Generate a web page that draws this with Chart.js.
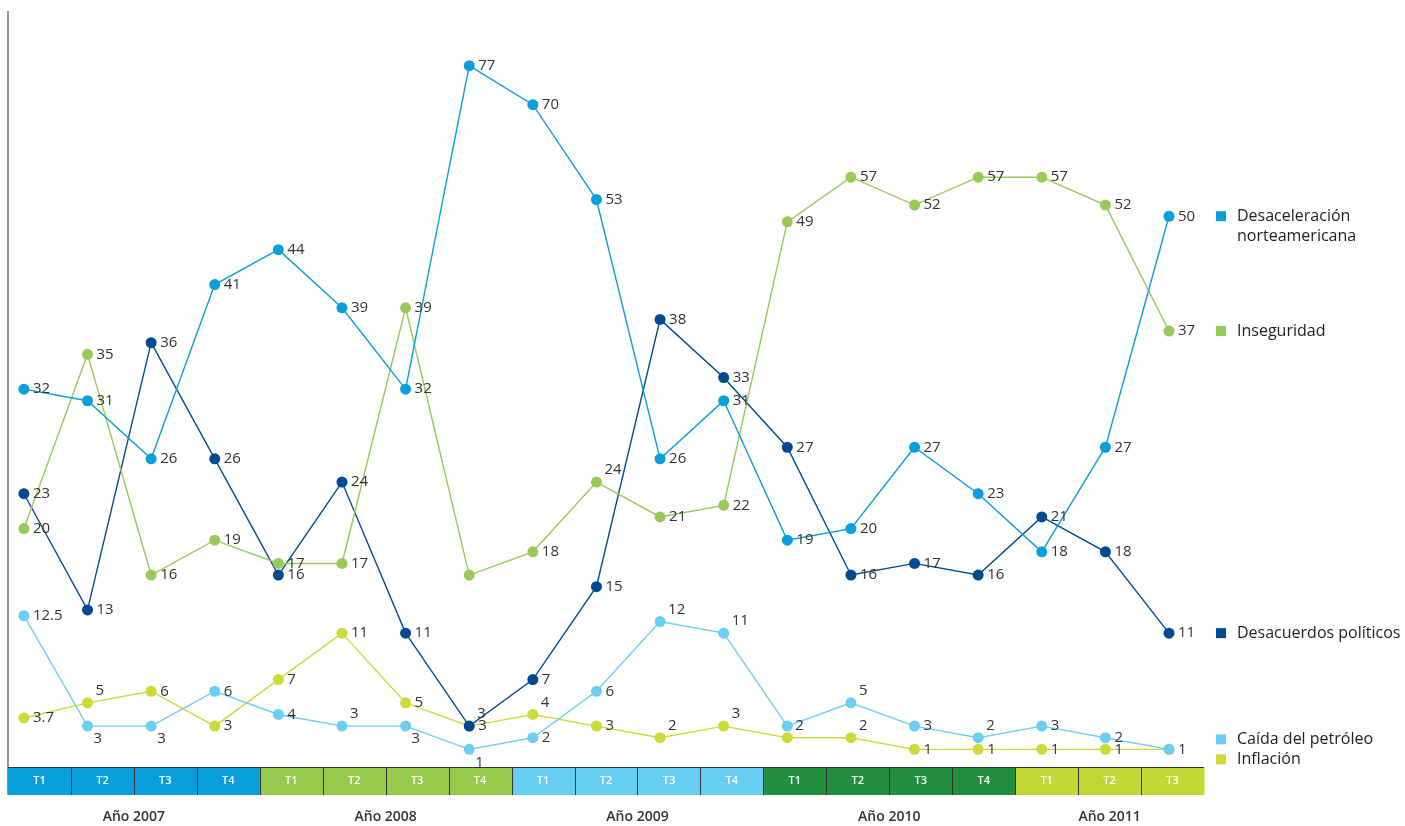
<!DOCTYPE html>
<html>
<head>
<meta charset="utf-8">
<script src="https://cdn.jsdelivr.net/npm/chart.js@4.4.0/dist/chart.umd.min.js"></script>
<style>
	html, body { margin: 0; padding: 0; background: #fff; }
	#wrap { width: 1405px; height: 826px; position: relative; }
</style>
</head>
<body>
<div id="wrap"><canvas id="chart"></canvas></div>
<script>
// --- data ---
var quarters = ['T1', 'T2', 'T3', 'T4', 'T1', 'T2', 'T3', 'T4', 'T1', 'T2', 'T3', 'T4', 'T1', 'T2', 'T3', 'T4', 'T1', 'T2', 'T3'];
var years = ['Año 2007', 'Año 2008', 'Año 2009', 'Año 2010', 'Año 2011'];
var quartersPerYear = [4, 4, 4, 4, 3];

var desaceleracion = [32, 31, 26, 41, 44, 39, 32, 77, 70, 53, 26, 31, 19, 20, 27, 23, 18, 27, 50];
var inseguridad = [20, 35, 16, 19, 17, 17, 39, 16, 18, 24, 21, 22, 49, 57, 52, 57, 57, 52, 37];
var desacuerdos = [23, 13, 36, 26, 16, 24, 11, 3, 7, 15, 38, 33, 27, 16, 17, 16, 21, 18, 11];
var petroleo = [12.5, 3, 3, 6, 4, 3, 3, 1, 2, 6, 12, 11, 3, 5, 3, 2, 3, 2, 1];
var inflacion = [3.7, 5, 6, 3, 7, 11, 5, 3, 4, 3, 2, 3, 2, 2, 1, 1, 1, 1, 1];

var seriesNames = ['Desaceleración\nnorteamericana', 'Inseguridad', 'Desacuerdos políticos', 'Caída del petróleo', 'Inflación'];

// --- styles ---
var seriesColors = ['#0a9edb', '#98ca5a', '#014a8f', '#6dcef4', '#cbda36'];
var yearColors = ['#079fdb', '#97c94d', '#67cdf3', '#22903f', '#c2d733'];
var textColor = '#333333';
var FONT = '"Open Sans", "Noto Sans", sans-serif';

// where each value label sits: r = right, a = above right, b = below right, '' = no label
var labelPlacement = [
	['r', 'r', 'r', 'r', 'r', 'r', 'r', 'r', 'r', 'r', 'r', 'r', 'r', 'r', 'r', 'r', 'r', 'r', 'r'],
	['r', 'r', 'r', 'r', 'r', 'r', 'r', '', 'r', 'a', 'r', 'r', 'r', 'r', 'r', 'r', 'r', 'r', 'r'],
	['r', 'r', 'r', 'r', 'r', 'r', 'r', 'a', 'r', 'r', 'r', 'r', 'r', 'r', 'r', 'r', 'r', 'r', 'r'],
	['r', 'b', 'b', 'r', 'r', 'a', 'b', 'b', 'r', 'r', 'a', 'a', '', 'a', 'r', 'a', 'r', 'r', 'r'],
	['r', 'a', 'r', 'r', 'r', 'r', 'r', 'r', 'a', 'r', 'a', 'a', 'a', 'a', 'r', 'r', 'r', 'r', '']
];

// the original squeezes everything above 44 to about half height
var BREAK = 44, SQUEEZE = 0.48;
function squash(v) { return v <= BREAK ? v : BREAK + (v - BREAK) * SQUEEZE; }
function unsquash(u) { return u <= BREAK ? u : BREAK + (u - BREAK) / SQUEEZE; }

class BrokenScale extends Chart.LinearScale {
	getPixelForValue(value) {
		var lo = squash(this.min), hi = squash(this.max);
		return this.getPixelForDecimal((squash(value) - lo) / (hi - lo));
	}
	getValueForPixel(pixel) {
		var lo = squash(this.min), hi = squash(this.max);
		return unsquash(lo + this.getDecimalForPixel(pixel) * (hi - lo));
	}
}
BrokenScale.id = 'broken';
BrokenScale.defaults = Chart.LinearScale.defaults;
Chart.register(BrokenScale);

function points(values) {
	return values.map(function (v, i) { return { x: i, y: v }; });
}

var allSeries = [desaceleracion, inseguridad, desacuerdos, petroleo, inflacion];

var decorations = {
	id: 'decorations',
	afterDatasetsDraw: function (chart) {
		var ctx = chart.ctx;
		ctx.save();
		ctx.font = '15px ' + FONT;
		ctx.fillStyle = textColor;
		ctx.textAlign = 'left';
		ctx.textBaseline = 'middle';
		chart.data.datasets.forEach(function (ds, d) {
			var meta = chart.getDatasetMeta(d);
			meta.data.forEach(function (pt, i) {
				var code = labelPlacement[d][i];
				if (!code) return;
				var dx = 9, dy = 0;
				if (code === 'a') { dx = 8; dy = -12; }
				if (code === 'b') { dx = 6; dy = 13; }
				ctx.fillText(String(allSeries[d][i]), pt.x + dx, pt.y + dy);
			});
		});
		ctx.restore();
	},
	afterDraw: function (chart) {
		var ctx = chart.ctx;
		var area = chart.chartArea;
		var yScale = chart.scales.y;
		ctx.save();

		// left axis
		ctx.strokeStyle = '#6f6f6f';
		ctx.lineWidth = 1.5;
		ctx.beginPath();
		ctx.moveTo(area.left, area.top);
		ctx.lineTo(area.left, area.bottom + 28);
		ctx.stroke();

		// quarter band
		var bandTop = area.bottom, bandH = 28;
		var w = (area.right - area.left) / quarters.length;
		var q = 0;
		quartersPerYear.forEach(function (n, y) {
			for (var k = 0; k < n; k++) {
				var x0 = area.left + (q + k) * w;
				ctx.fillStyle = yearColors[y];
				ctx.fillRect(x0, bandTop, w + 0.5, bandH);
				ctx.fillStyle = '#ffffff';
				ctx.font = '600 11px ' + FONT;
				ctx.textAlign = 'center';
				ctx.textBaseline = 'middle';
				ctx.fillText(quarters[q + k], x0 + w / 2, bandTop + bandH / 2);
			}
			ctx.fillStyle = textColor;
			ctx.font = '600 14px ' + FONT;
			ctx.fillText(years[y], area.left + (q + n / 2) * w, bandTop + 50);
			q += n;
		});
		ctx.strokeStyle = '#333333';
		ctx.lineWidth = 1;
		ctx.beginPath();
		ctx.moveTo(area.left, bandTop + 0.5);
		ctx.lineTo(area.right, bandTop + 0.5);
		for (var i = 1; i < quarters.length; i++) {
			var xs = Math.round(area.left + i * w) + 0.5;
			ctx.moveTo(xs, bandTop);
			ctx.lineTo(xs, bandTop + bandH);
		}
		ctx.stroke();

		// legend beside the last points
		var items = chart.data.datasets.map(function (ds, d) {
			var vals = allSeries[d];
			return { d: d, y: yScale.getPixelForValue(vals[vals.length - 1]) };
		});
		items.sort(function (a, b) { return a.y - b.y || a.d - b.d; });
		for (var j = 1; j < items.length; j++) {
			var gap = items[j].y - items[j - 1].y;
			if (gap < 20) {
				var push = (20 - gap) / 2;
				items[j - 1].y -= push;
				items[j].y += push;
			}
		}
		ctx.textAlign = 'left';
		ctx.textBaseline = 'middle';
		ctx.font = '16px ' + FONT;
		items.forEach(function (it) {
			ctx.fillStyle = seriesColors[it.d];
			ctx.fillRect(area.right + 12, it.y - 5, 10, 10);
			ctx.fillStyle = '#1e1e1e';
			seriesNames[it.d].split('\n').forEach(function (line, n) {
				ctx.fillText(line, area.right + 33, it.y + n * 20);
			});
		});
		ctx.restore();
	}
};

new Chart(document.getElementById('chart'), {
	type: 'line',
	data: {
		datasets: allSeries.map(function (vals, d) {
			return {
				label: seriesNames[d],
				data: points(vals),
				borderColor: seriesColors[d],
				backgroundColor: seriesColors[d],
				pointBackgroundColor: seriesColors[d],
				pointBorderWidth: 0,
				pointRadius: 5.5,
				borderWidth: 1.4,
				tension: 0,
				clip: false
			};
		})
	},
	options: {
		responsive: true,
		maintainAspectRatio: false,
		animation: false,
		layout: { padding: { left: 8, top: 11, right: 201, bottom: 59 } },
		plugins: { legend: { display: false }, tooltip: { enabled: false } },
		scales: {
			x: { type: 'linear', min: -0.25, max: 18.55, display: false },
			y: { type: 'broken', min: -0.52, max: 86.8, display: false }
		}
	},
	plugins: [decorations]
});
</script>
</body>
</html>
